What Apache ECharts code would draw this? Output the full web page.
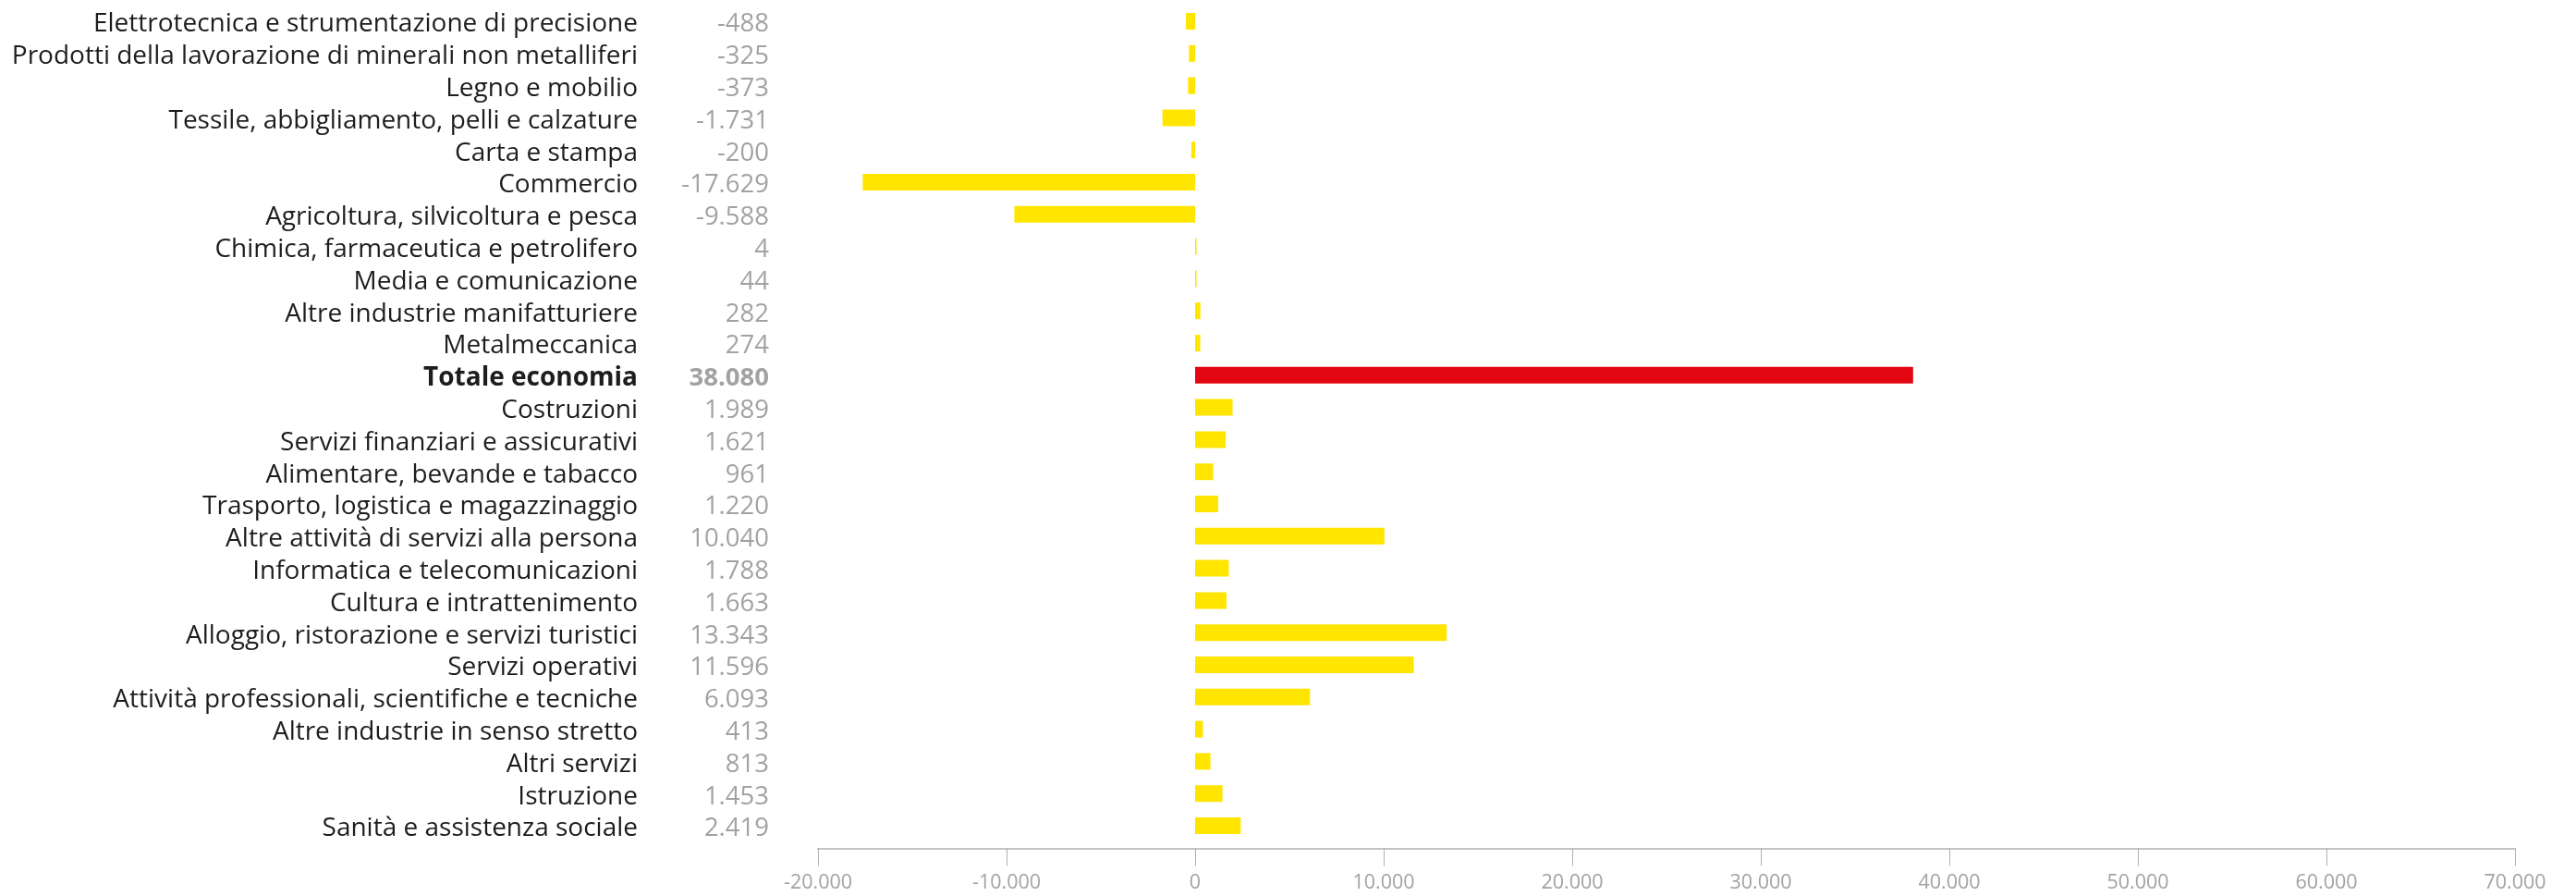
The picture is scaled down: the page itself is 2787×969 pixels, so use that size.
<!DOCTYPE html>
<html>
<head>
<meta charset="utf-8">
<script src="https://cdn.jsdelivr.net/npm/echarts@6/dist/echarts.min.js"></script>
<style>
  html, body { margin: 0; padding: 0; background: #ffffff; }
  #chart { width: 2787px; height: 969px; }
</style>
</head>
<body>
<div id="chart"></div>
<script>
const categories = [
  "Elettrotecnica e strumentazione di precisione",
  "Prodotti della lavorazione di minerali non metalliferi",
  "Legno e mobilio",
  "Tessile, abbigliamento, pelli e calzature",
  "Carta e stampa",
  "Commercio",
  "Agricoltura, silvicoltura e pesca",
  "Chimica, farmaceutica e petrolifero",
  "Media e comunicazione",
  "Altre industrie manifatturiere",
  "Metalmeccanica",
  "Totale economia",
  "Costruzioni",
  "Servizi finanziari e assicurativi",
  "Alimentare, bevande e tabacco",
  "Trasporto, logistica e magazzinaggio",
  "Altre attività di servizi alla persona",
  "Informatica e telecomunicazioni",
  "Cultura e intrattenimento",
  "Alloggio, ristorazione e servizi turistici",
  "Servizi operativi",
  "Attività professionali, scientifiche e tecniche",
  "Altre industrie in senso stretto",
  "Altri servizi",
  "Istruzione",
  "Sanità e assistenza sociale"
];
const values = [
  -488, -325, -373, -1731, -200, -17629, -9588, 4, 44, 282, 274, 38080,
  1989, 1621, 961, 1220, 10040, 1788, 1663, 13343, 11596, 6093, 413, 813, 1453, 2419
];
const highlightCategory = "Totale economia";
const xMin = -20000, xMax = 70000, xStep = 10000;

const FONT = "Open Sans";
const YELLOW = "#ffe500";
const RED = "#e30613";

function fmt(n) {
  const s = Math.abs(n).toString().replace(/\B(?=(\d{3})+(?!\d))/g, ".");
  return (n < 0 ? "-" : "") + s;
}

const chart = echarts.init(document.getElementById("chart"), null, { renderer: "canvas" });
chart.setOption({
  animation: false,
  backgroundColor: "#ffffff",
  grid: { left: 885, right: 66, top: 5.6, bottom: 58.6, containLabel: false, outerBoundsMode: "none" },
  xAxis: {
    type: "value",
    min: xMin, max: xMax, interval: xStep,
    offset: 7,
    axisLine: { show: true, lineStyle: { color: "#c4c4c4", width: 2 } },
    axisTick: { show: true, length: 19, lineStyle: { color: "#b0b0b0", width: 1 } },
    splitLine: { show: false },
    axisLabel: {
      color: "#a2a2a2", fontFamily: FONT, fontSize: 21.5, margin: 26,
      formatter: v => fmt(v)
    }
  },
  yAxis: [
    {
      type: "category", inverse: true, data: categories,
      axisLine: { show: false }, axisTick: { show: false },
      axisLabel: {
        interval: 0, hideOverlap: false, padding: [7, 0, 0, 0],
        margin: 195, color: "#1d1d1b", fontFamily: FONT, fontSize: 28,
        formatter: (v) => v === highlightCategory ? "{b|" + v + "}" : v,
        rich: { b: { fontWeight: "bold", color: "#1d1d1b", fontFamily: FONT, fontSize: 28 } }
      }
    },
    {
      type: "category", inverse: true, data: categories, position: "left",
      axisLine: { show: false }, axisTick: { show: false },
      axisLabel: {
        interval: 0, hideOverlap: false, padding: [7, 0, 0, 0],
        margin: 53, color: "#a2a2a2", fontFamily: FONT, fontSize: 27.5,
        formatter: (v, i) => v === highlightCategory ? "{b|" + fmt(values[i]) + "}" : fmt(values[i]),
        rich: { b: { fontWeight: "bold", color: "#a2a2a2", fontFamily: FONT, fontSize: 27.5 } }
      }
    }
  ],
  series: [{
    type: "bar",
    yAxisIndex: 0,
    barWidth: 18,
    barMinHeight: 1.5,
    data: values.map((v, i) => ({
      value: v,
      itemStyle: { color: categories[i] === highlightCategory ? RED : YELLOW }
    }))
  }]
});
</script>
</body>
</html>
